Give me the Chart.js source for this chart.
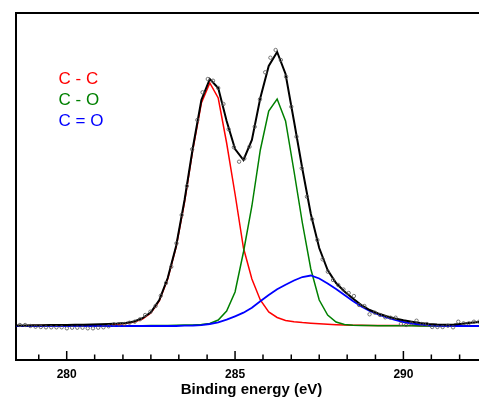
<!DOCTYPE html>
<html>
<head>
<meta charset="utf-8">
<script src="https://cdn.jsdelivr.net/npm/chart.js@4.4.1/dist/chart.umd.min.js"></script>
<style>
  html, body { margin: 0; padding: 0; background: #fff; overflow: hidden; }
  canvas { display: block; }
</style>
</head>
<body>
<canvas id="xpsChart" width="495" height="399"></canvas>
<script>
// 測定点 (結合エネルギー eV / 強度 a.u.)
const dataEnergy = [
  278.61, 278.765, 278.92, 279.075, 279.23, 279.385, 279.54, 279.695, 279.85, 280.005,
  280.16, 280.315, 280.47, 280.625, 280.78, 280.935, 281.09, 281.245, 281.4, 281.555,
  281.71, 281.865, 282.02, 282.175, 282.33, 282.485, 282.64, 282.795, 282.95, 283.105,
  283.26, 283.415, 283.57, 283.725, 283.88, 284.035, 284.19, 284.345, 284.5, 284.655,
  284.81, 284.965, 285.12, 285.275, 285.43, 285.585, 285.74, 285.895, 286.05, 286.205,
  286.36, 286.515, 286.67, 286.825, 286.98, 287.135, 287.29, 287.445, 287.6, 287.755,
  287.91, 288.065, 288.22, 288.375, 288.53, 288.685, 288.84, 288.995, 289.15, 289.305,
  289.46, 289.615, 289.77, 289.925, 290.08, 290.235, 290.39, 290.545, 290.7, 290.855,
  291.01, 291.165, 291.32, 291.475, 291.63, 291.785, 291.94, 292.095, 292.25
];
const dataCounts = [
  1.0, 1.0, 0, -0.7, -1.0, -1.3, -1.3, -1.3, -1.3, -2.3,
  -1.7, -1.7, -1.7, -2.3, -2.3, -1.7, -1.3, -0.3, 1.7, 1.7,
  2.0, 3.3, 4.3, 6.7, 11, 14.3, 20, 30.3, 43, 59.3,
  82.7, 111, 140, 176.7, 206, 233.7, 247, 245.3, 238, 222,
  196.7, 178.7, 164.3, 167.5, 179.3, 199.3, 226.7, 253.7, 268.3, 276,
  266, 249.3, 219.3, 189.3, 157.7, 129.3, 106.7, 86, 66.7, 54.3,
  46, 41, 36.5, 33, 30, 21, 20, 11.7, 13.3, 11,
  8.7, 8.3, 8.3, 2, 1, 2.5, 5.3, 2, 2, -1,
  -1, -1, 0.3, -1.3, 4.3, 2.7, 2.7, 4.3, 4.3
];

// フィット曲線 (0.25 eV刻み)
const fitEnergy = [
  278.5, 278.75, 279.0, 279.25, 279.5, 279.75, 280.0, 280.25, 280.5, 280.75,
  281.0, 281.25, 281.5, 281.75, 282.0, 282.25, 282.5, 282.75, 283.0, 283.25,
  283.5, 283.75, 284.0, 284.25, 284.5, 284.75, 285.0, 285.25, 285.5, 285.75,
  286.0, 286.25, 286.5, 286.75, 287.0, 287.25, 287.5, 287.75, 288.0, 288.25,
  288.5, 288.75, 289.0, 289.25, 289.5, 289.75, 290.0, 290.25, 290.5, 290.75,
  291.0, 291.25, 291.5, 291.75, 292.0, 292.25, 292.5
];
const fitCC = [
  0.3, 0.3, 0.4, 0.4, 0.5, 0.5, 0.6, 0.7, 0.8, 0.9,
  1.1, 1.4, 1.8, 2.6, 4, 7, 13, 25, 47, 79,
  124, 177, 223, 243, 228, 183, 132, 78, 47, 26,
  14, 8.5, 5.5, 4.2, 3.4, 2.8, 2.2, 1.7, 1.3, 1.0,
  0.8, 0.7, 0.6, 0.5, 0.5, 0.4, 0.4, 0.4, 0.3, 0.3,
  0.3, 0.3, 0.3, 0.2, 0.2, 0.2, 0.2
];
const fitCO = [
  0, 0, 0, 0, 0, 0, 0, 0, 0.1, 0.1,
  0.1, 0.1, 0.2, 0.2, 0.3, 0.3, 0.4, 0.5, 0.6, 0.7,
  0.9, 1.1, 1.5, 2.5, 6, 15, 34, 74, 120, 176,
  215, 227, 205, 155, 103, 57, 26, 11, 4, 1.5,
  0.8, 0.5, 0.4, 0.3, 0.3, 0.2, 0.2, 0.2, 0.1, 0.1,
  0.1, 0.1, 0, 0, 0, 0, 0
];
const fitCdO = [
  0, 0, 0, 0, 0, 0, 0, 0, 0, 0,
  0, 0, 0, 0, 0, 0, 0, 0, 0, 0,
  0.3, 0.5, 0.9, 2, 3.7, 6.3, 9.7, 13.3, 18.3, 24.7,
  31, 36.7, 41.3, 45.5, 49, 50.5, 47.5, 42.5, 37, 31,
  25, 19.5, 15, 11.5, 8.5, 6, 4, 2.5, 1.3, 0.6,
  0.2, 0, 0, 0, 0, 0, 0
];
const fitEnvelope = [
  0.5, 0.6, 0.7, 0.8, 0.9, 1.0, 1.1, 1.2, 1.3, 1.5,
  1.7, 2.0, 2.4, 3.1, 4.5, 7.8, 13.8, 26, 48, 80,
  126, 179, 226, 247, 238, 205, 177, 166, 186, 228,
  260, 274, 252, 205, 157, 112, 78, 56, 43, 34.5,
  27.5, 21, 16, 12.5, 9.8, 7.5, 5.7, 4.3, 3, 2,
  1.5, 1.3, 1.5, 2.2, 3.2, 4, 4.6
];

const componentLabels = ['C - C', 'C - O', 'C = O'];
const componentColors = ['#ff0000', '#008000', '#0000ff'];
const majorTicks = [280, 285, 290];
const minorTicks = [279.17, 280.83, 281.67, 282.5, 283.33, 284.17, 285.83, 286.67, 287.5, 288.33, 289.17, 290.83, 291.67];

const toPoints = (xs, ys) => xs.map((x, i) => ({ x: x, y: ys[i] }));

// 内向きの目盛り線
const innerTicks = {
  id: 'innerTicks',
  afterDraw(chart) {
    const { ctx, chartArea, scales } = chart;
    ctx.save();
    ctx.strokeStyle = '#000';
    ctx.lineWidth = 1.5;
    const draw = (vals, len) => vals.forEach(v => {
      const px = scales.x.getPixelForValue(v);
      if (px < chartArea.left || px > chartArea.right) return;
      ctx.beginPath();
      ctx.moveTo(px, chartArea.bottom);
      ctx.lineTo(px, chartArea.bottom - len);
      ctx.stroke();
    });
    draw(majorTicks, 8.5);
    draw(minorTicks, 5);
    ctx.restore();
  }
};

// 凡例 (色付き文字のみ)
const textLegend = {
  id: 'textLegend',
  afterDraw(chart) {
    const { ctx, chartArea } = chart;
    ctx.save();
    ctx.font = '17px "Liberation Sans", Arial, sans-serif';
    ctx.textBaseline = 'alphabetic';
    componentLabels.forEach((t, i) => {
      ctx.fillStyle = componentColors[i];
      ctx.fillText(t, chartArea.left + 42.5, chartArea.top + 70.5 + i * 21);
    });
    ctx.restore();
  }
};

const lineSet = (label, ys, color, width) => ({
  label: label,
  data: toPoints(fitEnergy, ys),
  showLine: true,
  borderColor: color,
  borderWidth: width,
  pointRadius: 0,
  tension: 0
});

new Chart(document.getElementById('xpsChart'), {
  type: 'scatter',
  data: {
    datasets: [
      {
        label: 'data',
        data: toPoints(dataEnergy, dataCounts),
        showLine: false,
        pointRadius: 1.7,
        pointBorderWidth: 0.8,
        pointBorderColor: '#555',
        pointBackgroundColor: 'rgba(255,255,255,0)'
      },
      lineSet('fit', fitEnvelope, '#000000', 2),
      lineSet(componentLabels[2], fitCdO, componentColors[2], 1.8),
      lineSet(componentLabels[1], fitCO, componentColors[1], 1.5),
      lineSet(componentLabels[0], fitCC, componentColors[0], 1.5)
    ]
  },
  options: {
    responsive: false,
    animation: false,
    layout: { padding: { left: 16, top: 13, right: 8, bottom: 0 } },
    plugins: { legend: { display: false }, tooltip: { enabled: false } },
    scales: {
      x: {
        type: 'linear',
        position: 'bottom',
        min: 278.494,
        max: 292.483,
        afterBuildTicks: (scale) => { scale.ticks = majorTicks.map(v => ({ value: v })); },
        afterFit: (scale) => { scale.height = 39.5; },
        grid: { display: true, drawOnChartArea: false, drawTicks: false },
        border: { display: true, color: '#000', width: 2 },
        ticks: {
          padding: 7.5,
          color: '#000',
          font: { family: '"Liberation Sans", Arial, sans-serif', size: 12, weight: 'bold' },
          callback: (v) => String(v)
        },
        title: {
          display: true,
          text: 'Binding energy (eV)',
          color: '#000',
          padding: { top: 0, bottom: 0 },
          font: { family: '"Liberation Sans", Arial, sans-serif', size: 15, weight: 'bold' }
        }
      },
      xTop: {
        type: 'linear',
        position: 'top',
        min: 278.494,
        max: 292.483,
        afterFit: (scale) => { scale.height = 0; },
        grid: { display: true, drawOnChartArea: false, drawTicks: false },
        border: { display: true, color: '#000', width: 2 },
        ticks: { display: false }
      },
      y: {
        position: 'left',
        min: -33.5,
        max: 313,
        afterFit: (scale) => { scale.width = 0; },
        grid: { display: true, drawOnChartArea: false, drawTicks: false },
        border: { display: true, color: '#000', width: 2 },
        ticks: { display: false }
      }
    }
  },
  plugins: [innerTicks, textLegend]
});
</script>
</body>
</html>
